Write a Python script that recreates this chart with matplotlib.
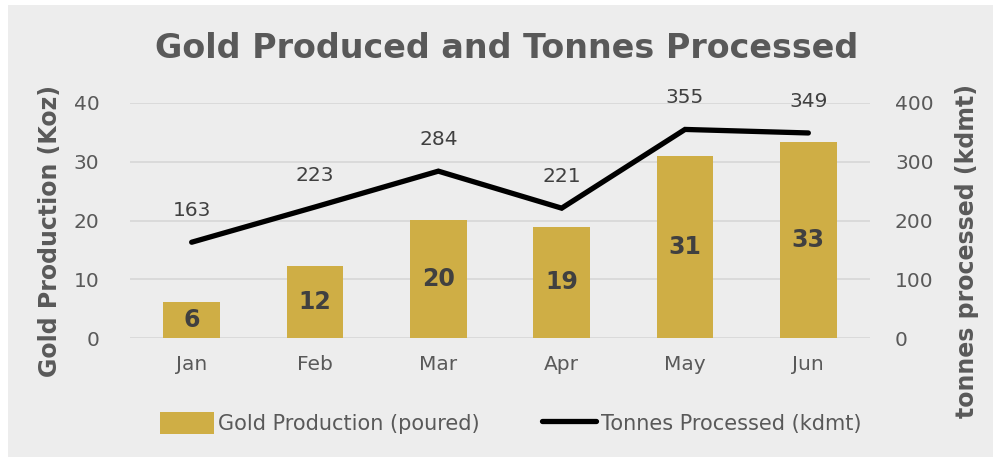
import numpy as np
import matplotlib.pyplot as plt
from matplotlib.patches import Rectangle
from matplotlib.lines import Line2D

months = ["Jan", "Feb", "Mar", "Apr", "May", "Jun"]
gold = [6.2, 12.3, 20.1, 18.9, 31.0, 33.4]
gold_labels = ["6", "12", "20", "19", "31", "33"]
tonnes = [163, 223, 284, 221, 355, 349]

bg = "#EDEDED"
txt = "#595959"
gold_col = "#CFAE45"

plt.rcParams["font.family"] = "DejaVu Sans"

fig = plt.figure(figsize=(9.93, 4.57), dpi=100, facecolor="white")
fig.patches.append(Rectangle((8 / 993, 0), 1, 1 - 5 / 457, transform=fig.transFigure,
                             facecolor=bg, edgecolor="none", zorder=-10))

ax = fig.add_axes([130 / 993, 1 - 338 / 457, 740 / 993, 235 / 457])
ax.set_facecolor("none")
x = np.arange(len(months))

ax.bar(x, gold, width=0.46, color=gold_col, zorder=2)
for xi, v, lab in zip(x, gold, gold_labels):
    ax.text(xi, v / 2, lab, ha="center", va="center", fontsize=17,
            fontweight="bold", color="#404040", zorder=4)

ax.set_ylim(0, 40)
ax.set_xlim(-0.5, 5.5)
ax.set_yticks([0, 10, 20, 30, 40])
ax.yaxis.grid(True, color="#D9D9D9", linewidth=1.3, zorder=0)
ax.set_axisbelow(True)
for s in ax.spines.values():
    s.set_visible(False)
ax.tick_params(axis="both", length=0, labelsize=14.5, labelcolor=txt)
ax.tick_params(axis="y", pad=22)
ax.tick_params(axis="x", pad=12)
ax.set_xticks(x)
ax.set_xticklabels(months)
ax.set_ylabel("Gold Production (Koz)", fontsize=17, fontweight="bold", color=txt)
ax.yaxis.set_label_coords(-0.092, 0.455)

ax2 = ax.twinx()
ax2.set_ylim(0, 400)
ax2.set_yticks([0, 100, 200, 300, 400])
ax2.plot(x, tonnes, color="black", linewidth=3.8, solid_capstyle="round",
         solid_joinstyle="miter", zorder=3)
for xi, v in zip(x, tonnes):
    ax2.text(xi, v + 54, str(v), ha="center", va="center", fontsize=14.5, color="#404040")
for s in ax2.spines.values():
    s.set_visible(False)
ax2.tick_params(axis="y", length=0, labelsize=14.5, labelcolor=txt, pad=18)
ax2.set_ylabel("tonnes processed (kdmt)", fontsize=17, fontweight="bold", color=txt)
ax2.yaxis.set_label_coords(1.115, 0.37)

handles = [Rectangle((0, 0), 1, 1, facecolor=gold_col),
           Line2D([0], [0], color="black", linewidth=3.8, solid_capstyle="round")]
fig.legend(handles, ["Gold Production (poured)", "Tonnes Processed (kdmt)"],
           loc="center", bbox_to_anchor=(0.514, 1 - 423 / 457), ncol=2, frameon=False,
           fontsize=15, labelcolor=txt, handlelength=2.6, handleheight=1.2,
           handletextpad=0.2, columnspacing=3.0)

fig.text(0.51, 1 - 48 / 457, "Gold Produced and Tonnes Processed", ha="center",
         va="center", fontsize=24, fontweight="bold", color=txt)

fig.savefig("out.png", dpi=100, facecolor=fig.get_facecolor())
